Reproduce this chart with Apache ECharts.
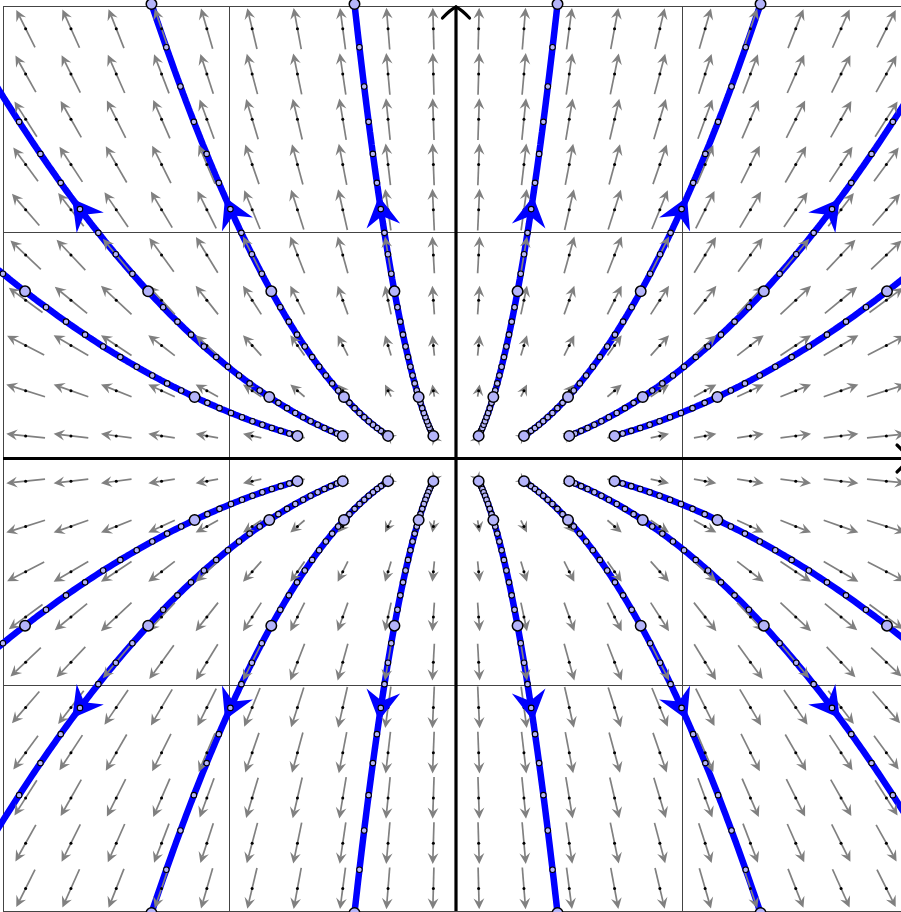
<!DOCTYPE html>
<html>
<head>
<meta charset="utf-8">
<script src="https://cdn.jsdelivr.net/npm/echarts@6/dist/echarts.min.js"></script>
<style>
html,body{margin:0;padding:0;background:#ffffff;overflow:hidden;width:901px;height:912px;}
#chart{width:912px;height:912px;}
</style>
</head>
<body>
<div id="chart"></div>
<script>
// Linear system  x' = A x
const systemMatrix = [[1, 0], [0, 2]];
// initial conditions of the trajectories
const startXs = [-0.7, -0.5, -0.3, -0.1, 0.1, 0.3, 0.5, 0.7];
const startYs = [0.1, -0.1];
// direction-field lattice
const fieldXs = [-1.9, -1.7, -1.5, -1.3, -1.1, -0.9, -0.7, -0.5, -0.3, -0.1, 0.1, 0.3, 0.5, 0.7, 0.9, 1.1, 1.3, 1.5, 1.7, 1.9];
const fieldYs = [-1.9, -1.7, -1.5, -1.3, -1.1, -0.9, -0.7, -0.5, -0.3, -0.1, 0.1, 0.3, 0.5, 0.7, 0.9, 1.1, 1.3, 1.5, 1.7, 1.9];
// axis range and grid-line ticks
const axisMin = -2, axisMax = 2, tickStep = 1;
// time settings of the trajectories
const tEnd = 1.5;        // integration end time
const dotEvery = 0.05;   // small markers
const bigEvery = 0.5;    // large markers
const headTime = 1.2;    // direction arrowheads

function vel(x, y) {
  return [systemMatrix[0][0] * x + systemMatrix[0][1] * y,
          systemMatrix[1][0] * x + systemMatrix[1][1] * y];
}
function rk4(x, y, h) {
  const k1 = vel(x, y);
  const k2 = vel(x + h / 2 * k1[0], y + h / 2 * k1[1]);
  const k3 = vel(x + h / 2 * k2[0], y + h / 2 * k2[1]);
  const k4 = vel(x + h * k3[0], y + h * k3[1]);
  return [x + h / 6 * (k1[0] + 2 * k2[0] + 2 * k3[0] + k4[0]),
          y + h / 6 * (k1[1] + 2 * k2[1] + 2 * k3[1] + k4[1])];
}

const sub = 10;
const h = dotEvery / sub;
const nSteps = Math.round(tEnd / h);
const bigMod = Math.round(bigEvery / h);
const headIdx = Math.round(headTime / h);
const lim = axisMax + 0.01;

const trajectories = [];
const smallDots = [];
const bigDots = [];
const heads = [];
startYs.forEach(function (y0) {
  startXs.forEach(function (x0) {
    let x = x0, y = y0;
    const line = [[x, y]];
    for (let i = 0; i <= nSteps; i++) {
      if (i > 0) { const p = rk4(x, y, h); x = p[0]; y = p[1]; line.push([x, y]); }
      const inside = Math.abs(x) <= lim && Math.abs(y) <= lim;
      if (i % bigMod === 0) { if (inside) bigDots.push([x, y]); }
      else if (i % sub === 0) { if (inside) smallDots.push([x, y]); }
      if (i === headIdx && inside) heads.push([x, y]);
    }
    trajectories.push(line);
  });
});

const fieldData = [];
fieldYs.forEach(function (y) { fieldXs.forEach(function (x) { fieldData.push([x, y]); }); });

function pixDir(api, x, y, vx, vy) {
  const m = Math.hypot(vx, vy) || 1;
  const c = api.coord([x, y]);
  const e = api.coord([x + vx / m * 0.01, y + vy / m * 0.01]);
  const dx = e[0] - c[0], dy = e[1] - c[1];
  const l = Math.hypot(dx, dy) || 1;
  return [dx / l, dy / l];
}

const chart = echarts.init(document.getElementById('chart'), null, {renderer: 'canvas', width: 912, height: 912});

const series = [];

// direction field
series.push({
  type: 'custom',
  z: 3,
  silent: true,
  clip: true,
  data: fieldData,
  renderItem: function (params, api) {
    const x = api.value(0), y = api.value(1);
    const v = vel(x, y);
    const mag = Math.hypot(v[0], v[1]);
    const L = Math.min(mag * 0.09, 0.185);
    const ux = v[0] / mag, uy = v[1] / mag;
    const c = api.coord([x, y]);
    const p0 = api.coord([x - ux * L / 2, y - uy * L / 2]);
    const p1 = api.coord([x + ux * L / 2, y + uy * L / 2]);
    const d = pixDir(api, x, y, v[0], v[1]);
    const n = [-d[1], d[0]];
    const headLen = 11, headW = 5.4, notch = 7;
    const back = [p1[0] - d[0] * headLen, p1[1] - d[1] * headLen];
    const nt = [p1[0] - d[0] * notch, p1[1] - d[1] * notch];
    const children = [];
    const shaftLen = (p1[0] - p0[0]) * d[0] + (p1[1] - p0[1]) * d[1] - notch;
    if (shaftLen > 0) {
      children.push({type: 'line', shape: {x1: p0[0], y1: p0[1], x2: nt[0], y2: nt[1]},
        style: {stroke: '#808080', lineWidth: 1.7}});
    }
    children.push({type: 'polygon', shape: {points: [
      [p1[0], p1[1]],
      [back[0] + n[0] * headW, back[1] + n[1] * headW],
      [nt[0], nt[1]],
      [back[0] - n[0] * headW, back[1] - n[1] * headW]
    ]}, style: {fill: '#808080'}});
    children.push({type: 'circle', shape: {cx: c[0], cy: c[1], r: 1.5}, style: {fill: '#000000'}});
    return {type: 'group', children: children};
  }
});

// axes with arrow tips
series.push({
  type: 'custom',
  z: 2,
  silent: true,
  clip: false,
  data: [[0, 0]],
  renderItem: function (params, api) {
    const top = api.coord([0, axisMax]);
    const bottom = api.coord([0, axisMin]);
    const left = api.coord([axisMin, 0]);
    const right = api.coord([axisMax, 0]);
    const st = {stroke: '#000000', lineWidth: 3.2, fill: null, lineCap: 'round'};
    return {type: 'group', children: [
      {type: 'line', shape: {x1: bottom[0], y1: bottom[1], x2: top[0], y2: top[1]}, style: {stroke: '#000', lineWidth: 3.2}},
      {type: 'line', shape: {x1: left[0], y1: left[1], x2: right[0], y2: right[1]}, style: {stroke: '#000', lineWidth: 3.2}},
      {type: 'bezierCurve', shape: {x1: top[0], y1: top[1] + 1, x2: top[0] - 13.5, y2: top[1] + 12, cpx1: top[0] - 5.5, cpy1: top[1] + 3.5}, style: st},
      {type: 'bezierCurve', shape: {x1: top[0], y1: top[1] + 1, x2: top[0] + 13.5, y2: top[1] + 12, cpx1: top[0] + 5.5, cpy1: top[1] + 3.5}, style: st},
      {type: 'bezierCurve', shape: {x1: right[0] - 1, y1: right[1], x2: right[0] - 12, y2: right[1] - 13.5, cpx1: right[0] - 3.5, cpy1: right[1] - 5.5}, style: st},
      {type: 'bezierCurve', shape: {x1: right[0] - 1, y1: right[1], x2: right[0] - 12, y2: right[1] + 13.5, cpx1: right[0] - 3.5, cpy1: right[1] + 5.5}, style: st}
    ]};
  }
});

// trajectories
trajectories.forEach(function (line) {
  series.push({
    type: 'line',
    z: 2,
    silent: true,
    clip: true,
    showSymbol: false,
    symbol: 'none',
    smooth: false,
    data: line,
    lineStyle: {color: '#0000ff', width: 6.5, cap: 'butt'}
  });
});

// direction arrowheads on trajectories
series.push({
  type: 'custom',
  z: 4,
  silent: true,
  clip: true,
  data: heads,
  renderItem: function (params, api) {
    const x = api.value(0), y = api.value(1);
    const v = vel(x, y);
    const c = api.coord([x, y]);
    const d = pixDir(api, x, y, v[0], v[1]);
    const n = [-d[1], d[0]];
    const tipF = 13, backB = 17, halfW = 17, notchB = 7;
    const tip = [c[0] + d[0] * tipF, c[1] + d[1] * tipF];
    const b = [c[0] - d[0] * backB, c[1] - d[1] * backB];
    const nt = [c[0] - d[0] * notchB, c[1] - d[1] * notchB];
    return {type: 'polygon', shape: {points: [
      tip,
      [b[0] + n[0] * halfW, b[1] + n[1] * halfW],
      nt,
      [b[0] - n[0] * halfW, b[1] - n[1] * halfW]
    ]}, style: {fill: '#0000ff'}};
  }
});

// markers
series.push({
  type: 'scatter',
  z: 5,
  silent: true,
  clip: false,
  symbol: 'circle',
  symbolSize: 5.5,
  data: smallDots,
  itemStyle: {color: '#b4b4fa', borderColor: '#000000', borderWidth: 1.1, opacity: 1}
});
series.push({
  type: 'scatter',
  z: 6,
  silent: true,
  clip: false,
  symbol: 'circle',
  symbolSize: 10.5,
  data: bigDots,
  itemStyle: {color: '#b4b4fa', borderColor: '#000000', borderWidth: 1.5, opacity: 1}
});

const valueAxis = {
  type: 'value',
  min: axisMin,
  max: axisMax,
  interval: tickStep,
  axisLine: {show: false},
  axisTick: {show: false},
  axisLabel: {show: false},
  splitLine: {show: true, lineStyle: {color: '#444444', width: 1}}
};

chart.setOption({
  animation: false,
  backgroundColor: '#ffffff',
  grid: {left: 3, top: 6, width: 906, height: 905, show: false},
  xAxis: Object.assign({}, valueAxis),
  yAxis: Object.assign({}, valueAxis),
  series: series
});
</script>
</body>
</html>
